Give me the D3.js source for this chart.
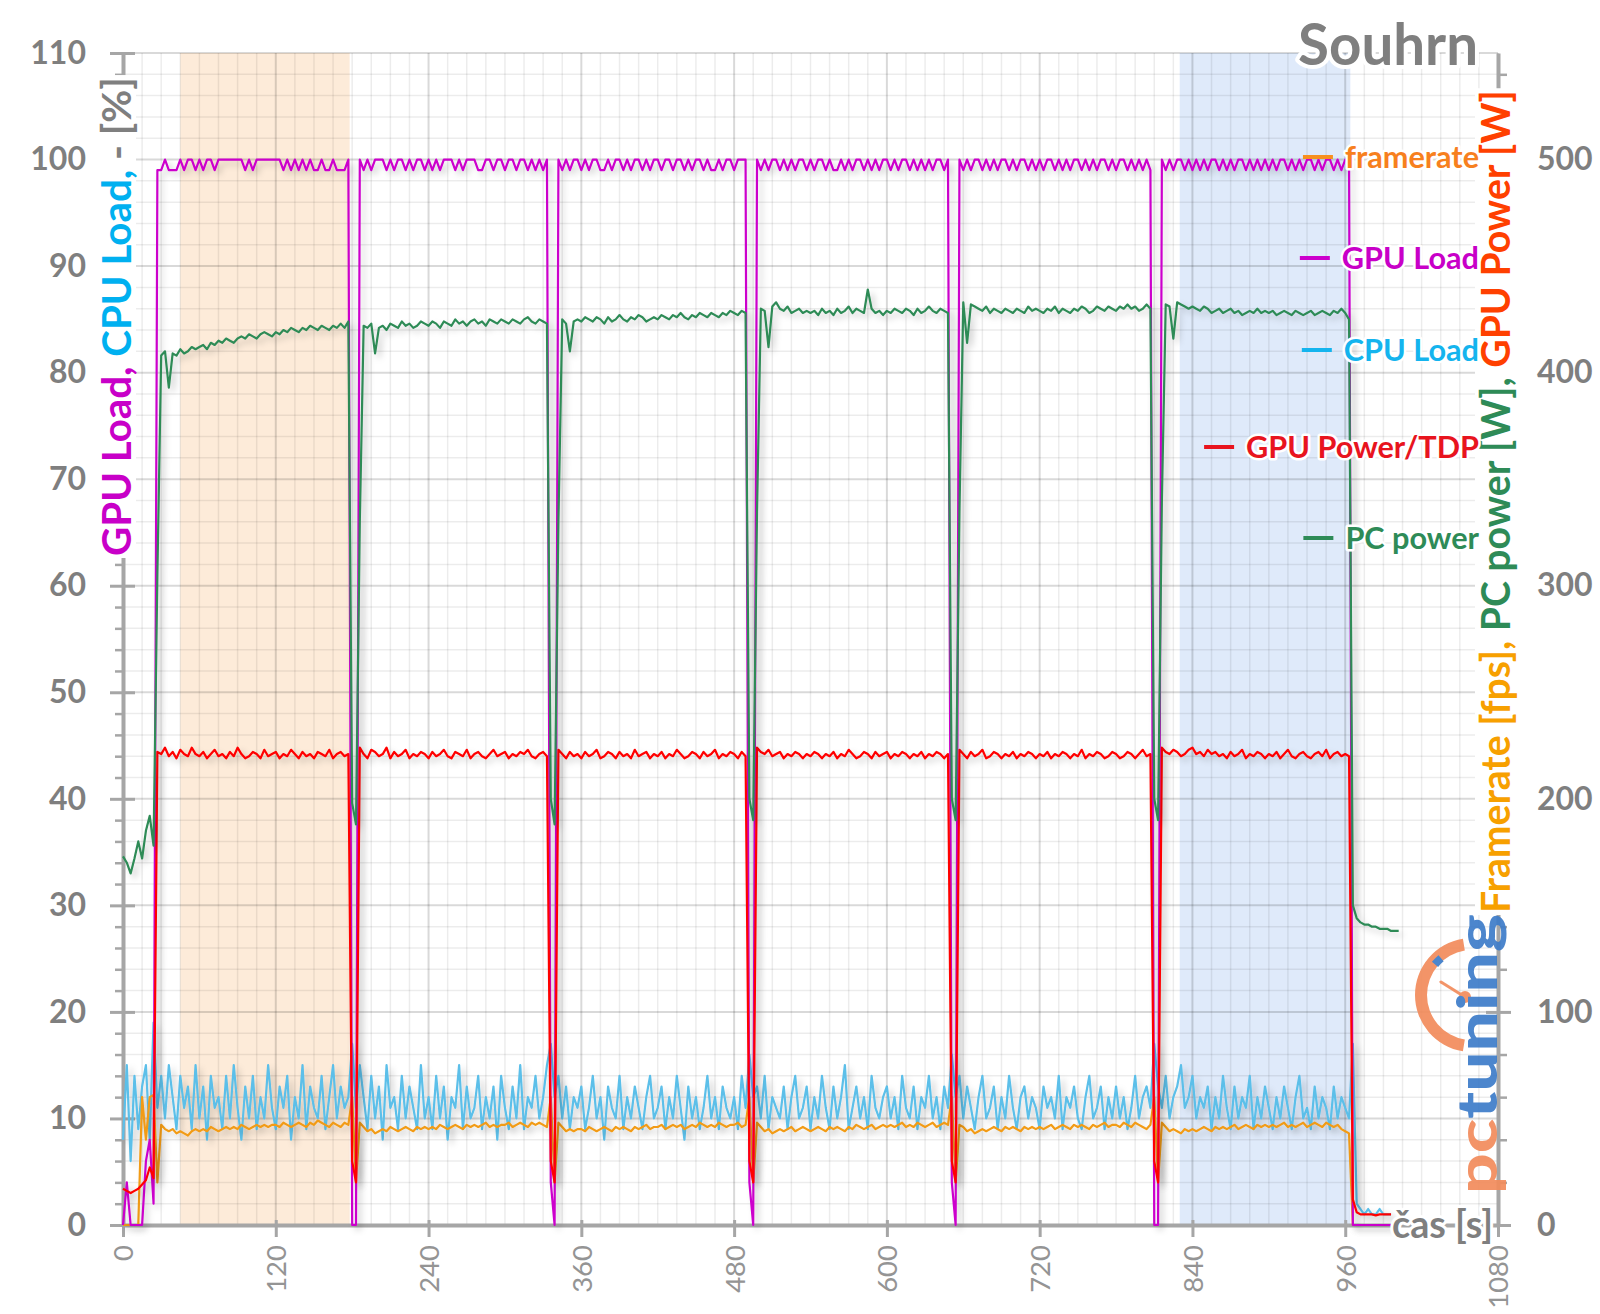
<!DOCTYPE html>
<html>
<head>
<meta charset="utf-8">
<script src="https://cdn.jsdelivr.net/npm/d3@7"></script>
<style>
body{margin:0;background:#fff}
svg{display:block}
text{font-family:Lato,"Open Sans",sans-serif}
</style>
</head>
<body>
<div id="chart"></div>
<script>
const width = 1600
const height = 1314
const margin = {top:53, right:102, bottom:89, left:123}

// one sample every 3 seconds, starting at t = 0
const sampleStep = 3

const xTicks = [0,120,240,360,480,600,720,840,960,1080]
const leftTicks = [0,10,20,30,40,50,60,70,80,90,100,110]
const rightTicks = [0,100,200,300,400,500]
const highlightRanges = [[45,178],[830,964]]
const legendLabels = ["framerate","GPU Load","CPU Load","GPU Power/TDP","PC power"]

// GPU Load [%]
const gpuLoad = [
0,4,0,0,0,0,6,8,2,99,99,100,99,99,99,100,99,100,100,99,
100,99,100,100,99,100,100,100,100,100,100,100,99,100,99,100,100,100,100,100,
100,100,99,100,99,100,99,100,99,100,99,99,100,99,99,100,99,99,99,100,
0,0,100,99,100,99,100,100,100,99,100,99,100,100,99,100,99,100,100,99,
100,99,100,99,100,100,100,99,100,99,100,100,100,99,99,100,100,99,100,100,
99,100,100,99,100,100,99,100,99,100,99,100,4,0,100,99,100,99,100,100,
99,100,99,100,100,99,99,100,99,100,100,99,100,99,100,100,99,100,99,100,
100,99,100,100,99,100,100,99,100,99,100,100,99,100,99,99,100,99,100,100,
99,100,100,100,4,0,100,99,100,99,100,100,99,100,99,100,99,100,100,99,
100,99,100,100,99,100,99,99,100,99,100,99,100,100,99,100,99,100,99,100,
100,99,100,99,100,100,99,100,99,100,99,100,99,100,100,99,100,4,0,100,
99,100,99,100,100,99,100,99,100,99,100,100,99,100,99,100,100,99,100,99,
100,99,100,100,99,100,99,100,99,100,100,99,100,99,100,99,100,100,99,100,
99,100,100,99,100,99,100,99,100,99,0,0,100,99,100,99,100,100,99,100,
99,100,99,100,99,100,100,99,100,99,100,99,100,100,99,100,99,100,99,100,
99,100,99,100,100,99,100,99,100,99,100,100,99,100,99,100,100,99,100,99,
100,100,0,0,0,0,0,0,0,0,0,0,0]

// CPU Load [%]
const cpuLoad = [
8,15,6,14,9,13,15,8,19,11,14,10,15,12,9,14,11,13,9,15,
10,13,8,14,11,12,9,14,10,15,11,8,13,10,14,9,12,10,15,11,
9,13,11,14,8,12,10,15,9,13,11,10,14,9,12,15,10,13,11,12,
17,11,15,12,9,14,10,13,8,15,11,12,9,14,10,13,11,9,15,10,
12,9,14,10,13,8,12,11,15,9,13,10,11,14,9,12,10,13,8,14,
11,9,13,10,15,9,12,11,14,10,12,15,17,12,14,10,13,9,12,11,
13,9,11,14,10,12,8,13,11,10,14,9,12,10,13,11,9,12,14,10,
11,13,9,12,10,14,11,8,13,10,12,9,11,14,10,12,9,13,11,10,
12,9,14,11,16,12,13,10,14,9,12,11,10,13,9,12,14,10,11,13,
9,12,10,14,11,9,13,10,12,15,9,11,13,10,12,9,14,11,10,12,
13,10,12,9,14,11,10,13,9,12,11,14,10,12,9,13,11,16,12,14,
10,13,11,9,12,14,10,11,13,9,12,10,14,11,9,12,13,10,12,11,
9,13,11,12,10,14,9,12,11,13,10,9,12,14,10,11,13,9,12,10,
13,10,12,9,11,14,10,12,13,11,17,13,11,14,10,12,13,15,11,12,
14,10,12,11,13,9,12,10,14,11,9,13,10,12,11,14,9,12,10,13,
11,9,12,10,13,11,9,12,14,10,11,9,13,10,12,11,9,13,10,12,
11,10,17,2,1.5,1,1.5,1,1,1.5,1,1,1]

// GPU Power [W]
const gpuPower = [
17,16,15,16,17,19,21,27,22,222,221,224,220,222,219,223,221,220,224,221,
220,222,219,221,223,220,221,219,222,220,224,221,219,220,222,221,219,223,220,221,
222,219,221,220,223,221,219,222,220,221,219,222,221,220,223,219,221,222,220,221,
30,20,224,221,219,223,222,220,221,224,219,222,220,221,223,219,221,220,222,221,
219,222,220,221,223,220,219,222,221,220,223,219,221,222,220,219,221,223,220,221,
222,219,221,220,222,221,223,220,219,221,222,220,30,20,223,221,219,222,220,221,
219,222,220,221,223,219,220,222,221,219,222,220,221,219,223,220,221,222,219,221,
220,222,219,221,220,223,221,219,220,222,221,219,222,220,221,223,219,221,220,222,
221,219,222,220,30,20,224,222,221,223,220,221,222,219,221,220,222,221,219,221,
220,222,221,219,221,220,222,219,221,220,223,221,219,220,222,221,219,222,220,221,
222,219,221,220,222,221,219,221,220,222,219,221,220,222,221,219,221,30,20,223,
221,219,222,220,221,223,219,220,222,221,219,221,220,222,219,221,220,222,221,219,
221,220,222,219,221,220,222,221,219,221,220,223,219,221,220,222,221,219,220,222,
221,219,220,222,221,219,221,223,220,221,30,20,224,222,221,223,222,220,221,223,
224,221,222,220,223,221,222,220,221,219,222,220,221,223,219,221,220,222,221,219,
221,220,222,219,221,223,220,219,221,222,220,219,221,222,220,223,219,221,222,220,
221,220,12,6,5,5,5,5,4.5,5,5,5,5]

// PC power [W]
const pcPower = [
173,170,165,172,180,172,185,192,178,305,408,410,393,409,408,411,409,410,412,411,
412,413,411,414,413,415,414,416,415,414,416,417,416,418,417,416,418,419,418,417,
419,418,420,419,421,420,419,421,420,422,421,420,422,421,420,422,421,423,421,424,
198,188,330,422,421,423,409,421,422,420,423,422,421,424,422,423,421,422,424,423,
422,424,423,421,424,423,422,425,423,424,422,424,425,423,424,422,425,424,423,425,
424,423,425,424,423,425,426,424,423,425,424,423,200,188,330,425,423,410,424,425,
424,426,425,424,426,425,423,426,424,425,427,425,424,426,425,427,426,424,425,426,
425,427,426,425,427,426,428,426,425,427,426,428,427,426,428,427,426,428,427,429,
428,427,429,428,200,190,335,430,429,412,431,433,430,429,431,428,429,430,428,429,
428,429,427,430,428,429,427,430,428,429,431,428,430,429,428,439,430,428,429,427,
429,428,430,429,428,430,429,427,430,428,429,431,429,428,430,429,428,200,190,335,
433,414,432,431,430,429,431,428,430,429,428,430,429,428,430,429,428,431,429,430,
429,428,430,429,431,428,430,429,428,430,429,431,430,428,429,431,430,429,431,430,
429,431,430,432,430,431,429,430,432,430,200,190,340,432,431,416,433,432,431,430,
431,430,429,431,430,428,429,430,428,429,430,428,429,427,428,429,428,430,428,429,
428,429,427,428,429,428,427,429,428,427,428,429,427,428,429,428,427,429,428,430,
428,425,150,144,142,141,141,140,140,139,139,139,138,138,138]

// Framerate [fps]
const framerate = [
0,0,0,0,0,60,40,60,61,20,47,45,44,45,43,44,43,42,44,45,
44,45,44,46,45,44,45,46,45,46,45,47,46,45,46,47,46,47,46,47,
47,46,48,47,46,47,48,47,46,48,47,49,48,47,46,48,47,46,48,47,
60,20,48,46,44,45,43,44,45,44,46,45,44,45,46,45,44,46,45,46,
45,46,45,47,46,45,46,47,46,45,47,46,47,46,47,48,46,47,46,47,
47,48,46,47,48,47,46,48,47,48,47,46,60,20,48,46,44,45,44,45,
45,44,46,45,44,45,46,45,44,46,45,46,45,44,46,45,46,47,45,46,
46,47,45,46,47,46,47,45,46,47,46,48,47,46,47,46,48,47,46,47,
47,48,46,47,60,20,48,46,44,45,43,44,45,44,45,46,44,45,46,45,
44,45,46,45,44,46,45,46,45,44,46,45,47,46,45,46,47,45,46,47,
46,47,46,47,48,46,47,46,48,47,46,47,48,46,47,48,47,60,20,47,
46,44,45,43,44,45,44,45,46,45,44,46,45,46,45,44,46,45,46,45,
46,45,46,47,45,46,47,46,45,47,46,47,46,45,47,46,47,48,46,47,
47,46,48,47,46,48,47,46,45,47,60,20,48,46,44,45,44,43,45,44,
45,44,45,46,45,44,46,45,46,45,46,47,45,46,47,46,45,47,46,47,
46,47,46,47,48,46,47,46,47,48,46,47,48,47,46,48,47,46,47,45,
44,43,0,0,0,0,0,0,0,0,0,0,0]

const axisColor = "#a6a6a6"
const labelColor = "#7f7f7f"

const svg = d3.select("div#chart").append("svg").attr("width",width).attr("height",height)

const defs = svg.append("defs")
const shadow = defs.append("filter").attr("id","shadow")
    .attr("filterUnits","userSpaceOnUse").attr("x",0).attr("y",0).attr("width",width).attr("height",height)
shadow.append("feGaussianBlur").attr("in","SourceAlpha").attr("stdDeviation",3).attr("result","blur")
shadow.append("feOffset").attr("in","blur").attr("dx",4).attr("dy",4).attr("result","off")
shadow.append("feFlood").attr("flood-color","#000").attr("flood-opacity",0.2).attr("result","col")
shadow.append("feComposite").attr("in","col").attr("in2","off").attr("operator","in").attr("result","sh")
const merge = shadow.append("feMerge")
merge.append("feMergeNode").attr("in","sh")
merge.append("feMergeNode").attr("in","SourceGraphic")

const x = d3.scaleLinear().domain([0,1080]).range([margin.left, width - margin.right])
const yL = d3.scaleLinear().domain([0,110]).range([height - margin.bottom, margin.top])
const yR = d3.scaleLinear().domain([0,550]).range([height - margin.bottom, margin.top])

const plotTop = margin.top, plotBottom = height - margin.bottom
const plotLeft = margin.left, plotRight = width - margin.right

// highlighted windows
const bandColors = ["#fdebd9","#dfeafa"]
svg.append("g").attr("class","bands").selectAll("rect").data(highlightRanges).enter()
    .append("rect")
    .attr("x", d => x(d[0]))
    .attr("width", d => x(d[1]) - x(d[0]))
    .attr("y", plotTop)
    .attr("height", plotBottom - plotTop)
    .attr("fill", (d,i) => bandColors[i])

// grid
const grid = svg.append("g").attr("class","grid")
grid.selectAll("line.vmin").data(d3.range(0,1081,15).filter(v => v % 120)).enter()
    .append("line").attr("x1", d => x(d)).attr("x2", d => x(d)).attr("y1", plotTop).attr("y2", plotBottom)
    .attr("stroke","rgba(0,0,0,0.075)").attr("stroke-width",1.5)
grid.selectAll("line.hmin").data(d3.range(0,111,2).filter(v => v % 10)).enter()
    .append("line").attr("y1", d => yL(d)).attr("y2", d => yL(d)).attr("x1", plotLeft).attr("x2", plotRight)
    .attr("stroke","rgba(0,0,0,0.075)").attr("stroke-width",1.5)
grid.selectAll("line.vmaj").data(xTicks).enter()
    .append("line").attr("x1", d => x(d)).attr("x2", d => x(d)).attr("y1", plotTop).attr("y2", plotBottom)
    .attr("stroke","rgba(0,0,0,0.15)").attr("stroke-width",2)
grid.selectAll("line.hmaj").data(leftTicks).enter()
    .append("line").attr("y1", d => yL(d)).attr("y2", d => yL(d)).attr("x1", plotLeft).attr("x2", plotRight)
    .attr("stroke","rgba(0,0,0,0.15)").attr("stroke-width",2)

// axes
function styleAxis(g){
    g.select(".domain").attr("stroke",axisColor).attr("stroke-width",4)
    g.selectAll(".tick line").attr("stroke",axisColor).attr("stroke-width",3)
    g.selectAll(".tick text").attr("font-size",32).attr("font-weight","bold").attr("fill",labelColor)
        .attr("font-family","Lato, 'Open Sans', sans-serif")
}

const leftMinor = svg.append("g").attr("transform",`translate(${plotLeft},0)`)
    .call(d3.axisLeft(yL).tickValues(d3.range(0,111,2).filter(v => v % 10)).tickSize(8).tickFormat(""))
leftMinor.select(".domain").remove()
leftMinor.selectAll(".tick line").attr("stroke",axisColor).attr("stroke-width",2.5)

const rightMinor = svg.append("g").attr("transform",`translate(${plotRight},0)`)
    .call(d3.axisRight(yR).tickValues(d3.range(0,551,20).filter(v => v % 100)).tickSize(9).tickFormat(""))
rightMinor.select(".domain").remove()
rightMinor.selectAll(".tick line").attr("stroke",axisColor).attr("stroke-width",2.5)

const leftAxis = svg.append("g").attr("transform",`translate(${plotLeft},0)`)
    .call(d3.axisLeft(yL).tickValues(leftTicks).tickSizeInner(13).tickSizeOuter(0).tickPadding(24))
styleAxis(leftAxis)
leftAxis.selectAll(".tick line").attr("x1",12)

const rightAxis = svg.append("g").attr("transform",`translate(${plotRight},0)`)
    .call(d3.axisRight(yR).tickValues(rightTicks).tickSizeInner(13).tickSizeOuter(0).tickPadding(26))
styleAxis(rightAxis)
rightAxis.selectAll(".tick line").attr("x1",-12)

const bottomAxis = svg.append("g").attr("transform",`translate(0,${plotBottom})`)
    .call(d3.axisBottom(x).tickValues(xTicks).tickFormat(d3.format("d")).tickSizeInner(12).tickSizeOuter(0))
styleAxis(bottomAxis)
bottomAxis.selectAll(".tick line").attr("y1",-5)
bottomAxis.selectAll(".tick text")
    .attr("font-weight","normal").attr("font-size",27.5).attr("fill","#949494")
    .attr("y",0).attr("x",-20).attr("dy","0.36em")
    .attr("transform","rotate(-90)").attr("text-anchor","end")

// series
const t = i => x(i * sampleStep)
const series = [
    {values: cpuLoad, y: yL, color: "#5bbfe9"},
    {values: framerate, y: yR, color: "#f29b14"},
    {values: gpuLoad, y: yL, color: "#cc00cc"},
    {values: gpuPower, y: yR, color: "#ff0000"},
    {values: pcPower, y: yR, color: "#2e8b57"}
]
const lineGroup = svg.append("g").attr("class","lines")
series.forEach(s => {
    lineGroup.append("path")
        .datum(s.values)
        .attr("d", d3.line().x((d,i) => t(i)).y(d => s.y(d)))
        .attr("fill","none")
        .attr("stroke", s.color)
        .attr("stroke-width", 2.2)
        .attr("stroke-linejoin","round")
        .attr("filter","url(#shadow)")
})

function halo(sel, w){
    return sel.attr("stroke","#fff").attr("stroke-width",w).attr("stroke-linejoin","round").attr("paint-order","stroke")
}
function fitWidth(sel, target){
    const len = sel.node().getComputedTextLength()
    sel.attr("font-size", +sel.attr("font-size") * target / len)
}
// white box behind a text, inside its own group
function backBox(g, txt, pad){
    const b = txt.node().getBBox()
    g.insert("rect","text")
        .attr("x", b.x - pad).attr("y", b.y + 4)
        .attr("width", b.width + 2 * pad).attr("height", b.height - 8)
        .attr("fill","#fff")
}

// axis titles
const leftTitleG = svg.append("g").attr("transform","translate(131,556) rotate(-90)")
const leftTitle = leftTitleG.append("text").attr("font-size",34).attr("font-weight","bold")
leftTitle.append("tspan").attr("fill","#c800c8").text("GPU Load, ")
leftTitle.append("tspan").attr("fill","#00b0f0").text("CPU Load, ")
leftTitle.append("tspan").attr("fill",labelColor).text("- [%]")
fitWidth(leftTitle, 479)
backBox(leftTitleG, leftTitle, 2)

const rightTitleG = svg.append("g").attr("transform","translate(1510,913) rotate(-90)")
const rightTitle = rightTitleG.append("text").attr("font-size",34).attr("font-weight","bold")
rightTitle.append("tspan").attr("fill","#f7a000").text("Framerate [fps], ")
rightTitle.append("tspan").attr("fill","#2e8b57").text("PC power [W], ")
rightTitle.append("tspan").attr("fill","#ff4000").text("GPU Power [W]")
fitWidth(rightTitle, 823)
backBox(rightTitleG, rightTitle, 2)

const xTitle = svg.append("text").attr("x",1493).attr("y",1238).attr("text-anchor","end")
    .attr("font-size",38).attr("font-weight","bold").attr("fill",labelColor).text("čas [s]")
halo(xTitle,6)
fitWidth(xTitle, 101)

const title = svg.append("text").attr("x",1478).attr("y",65).attr("text-anchor","end")
    .attr("font-size",52).attr("font-weight","bold").attr("fill",labelColor).text("Souhrn")
halo(title,8)
fitWidth(title, 180)

// legend
const legendY = [157,258,350,447,538]
const legendText = ["#f7801e","#c800c8","#14b4ee","#e8141e","#2e8b57"]
const legendLine = ["#f7901e","#cc00cc","#14b4ee","#e8141e","#2e8b57"]
const legend = svg.append("g").attr("class","legend")
const probe = legend.append("text").attr("font-size",30).attr("font-weight","bold").text(legendLabels[3])
fitWidth(probe, 233)
const legendSize = +probe.attr("font-size")
probe.remove()
legendLabels.forEach((lab,i) => {
    const tx = legend.append("text")
        .attr("x",1479).attr("y",legendY[i]).attr("dy","0.35em")
        .attr("text-anchor","end").attr("font-size",legendSize).attr("font-weight","bold")
        .attr("fill",legendText[i]).text(lab)
    halo(tx,5)
    const w = tx.node().getComputedTextLength()
    legend.append("line")
        .attr("x1",1479 - w - 42).attr("x2",1479 - w - 12)
        .attr("y1",legendY[i]).attr("y2",legendY[i])
        .attr("stroke",legendLine[i]).attr("stroke-width",4)
})

// pcTuning logo
const logo = svg.append("g").attr("class","logo").attr("opacity",0.92)
const gauge = logo.append("g").attr("transform","translate(1472,995)")
gauge.append("path")
    .attr("d", d3.arc()({innerRadius:45, outerRadius:57, startAngle:Math.PI + 0.16, endAngle:2 * Math.PI - 0.16}))
    .attr("fill","#f28c5c")
gauge.append("path")
    .attr("d", d3.arc()({innerRadius:44, outerRadius:52, startAngle:2 * Math.PI - 0.88, endAngle:2 * Math.PI - 0.7}))
    .attr("fill","#3d7cc9")
logo.append("line").attr("x1",1441).attr("y1",982).attr("x2",1465).attr("y2",997)
    .attr("stroke","#f28c5c").attr("stroke-width",3).attr("stroke-linecap","round")
logo.append("circle").attr("cx",1465).attr("cy",997).attr("r",6).attr("fill","#f28c5c")
const logoText = logo.append("text").attr("transform","translate(1497,1194) rotate(-90)")
    .attr("font-size",56).attr("font-weight","900")
    .attr("textLength",280).attr("lengthAdjust","spacingAndGlyphs")
logoText.append("tspan").attr("fill","#f28c5c").text("pc")
logoText.append("tspan").attr("fill","#3d7cc9").text("tuning")
</script>
</body>
</html>
